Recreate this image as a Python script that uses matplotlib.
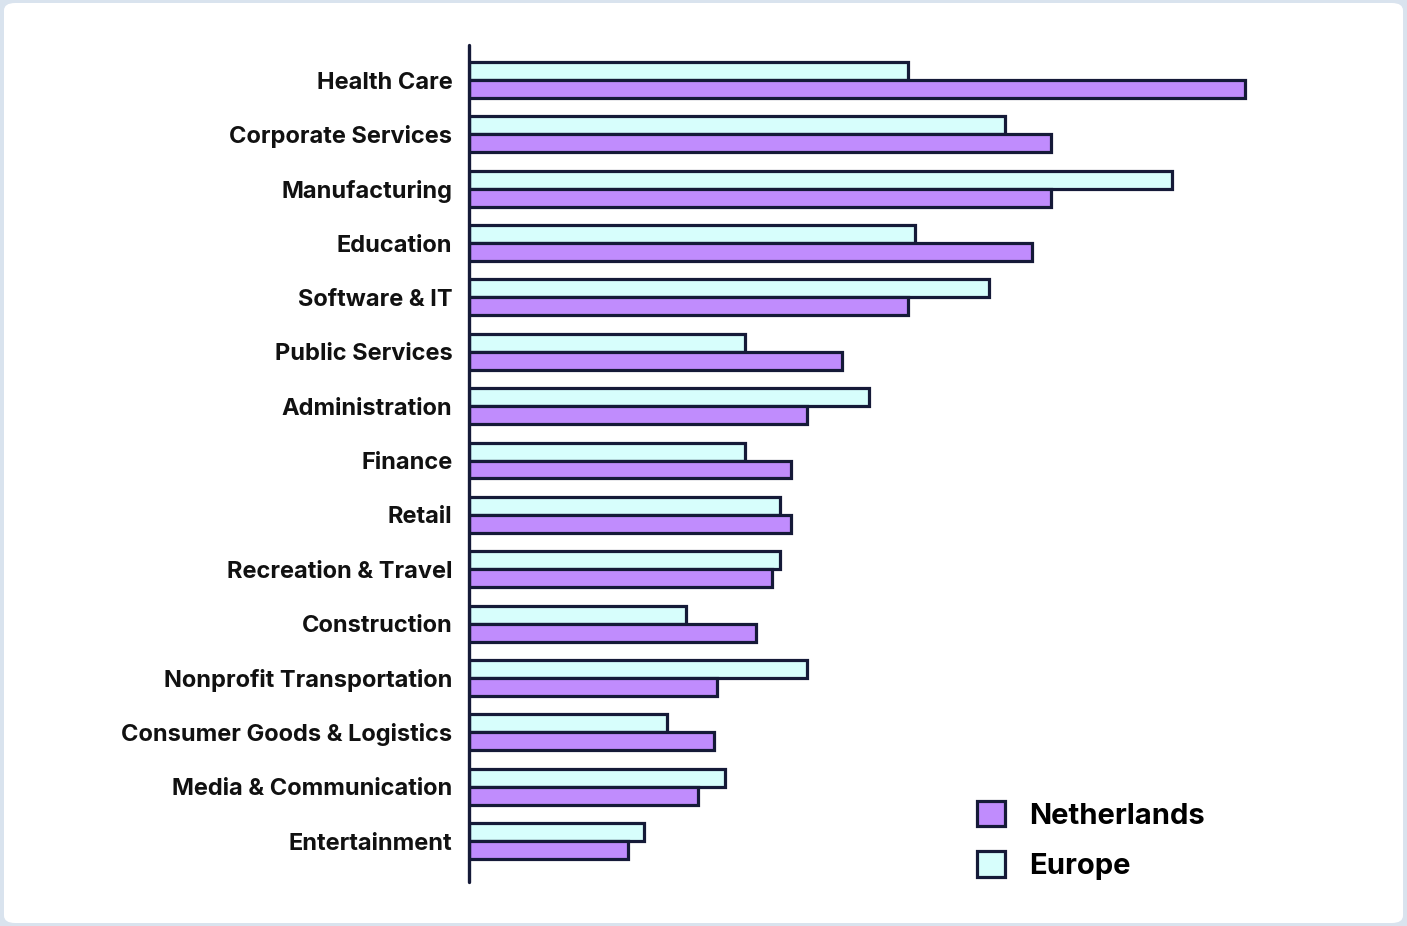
import matplotlib
matplotlib.use("Agg")
import matplotlib.pyplot as plt
import numpy as np
from matplotlib.patches import Patch, FancyBboxPatch

categories = ["Health Care", "Corporate Services", "Manufacturing", "Education",
              "Software & IT", "Public Services", "Administration", "Finance",
              "Retail", "Recreation & Travel", "Construction",
              "Nonprofit Transportation", "Consumer Goods & Logistics",
              "Media & Communication", "Entertainment"]
europe = [11.3, 13.8, 18.1, 11.5, 13.4, 7.1, 10.3, 7.1, 8.0, 8.0, 5.6, 8.7, 5.1, 6.6, 4.5]
netherlands = [20.0, 15.0, 15.0, 14.5, 11.3, 9.6, 8.7, 8.3, 8.3, 7.8, 7.4, 6.4, 6.3, 5.9, 4.1]

PURPLE = "#C08CFD"
CYAN = "#D7FEFC"
EDGE = "#151A38"
FONT = ['Inter', 'DejaVu Sans']

plt.rcParams['font.family'] = FONT

W, H = 1407, 926
fig = plt.figure(figsize=(W / 100, H / 100), dpi=100)
fig.patch.set_facecolor("#D9E3EE")
bg = FancyBboxPatch((4 / W, 3 / H), (W - 8) / W, (H - 6) / H,
                    boxstyle="round,pad=0,rounding_size=0.008",
                    transform=fig.transFigure, facecolor="white",
                    edgecolor="none", zorder=-10)
fig.patches.append(bg)

left = 469 / W
top = 45 / H
bottom = 882 / H
ax = fig.add_axes([left, 1 - bottom, 854 / W, bottom - top])
ax.set_facecolor("none")

y = np.arange(len(categories))
h = 0.33
ax.barh(y - h / 2, europe, height=h, color=CYAN, edgecolor=EDGE, linewidth=2.3, label="Europe")
ax.barh(y + h / 2, netherlands, height=h, color=PURPLE, edgecolor=EDGE, linewidth=2.3, label="Netherlands")

ax.set_xlim(0, 22)
ax.set_ylim(len(categories) - 1 + 0.754, -0.644)
ax.set_yticks(y)
ax.set_yticklabels(categories, fontsize=17, fontweight="bold", color="#111111")
ax.tick_params(axis="y", length=0, pad=12)
ax.set_xticks([])
for s in ["top", "right", "bottom"]:
    ax.spines[s].set_visible(False)
ax.spines["left"].set_linewidth(2.4)
ax.spines["left"].set_color(EDGE)
ax.spines["left"].set_capstyle("round")

handles = [Patch(facecolor=PURPLE, edgecolor=EDGE, linewidth=2.3, label="Netherlands"),
           Patch(facecolor=CYAN, edgecolor=EDGE, linewidth=2.3, label="Europe")]
fig.legend(handles=handles, loc="upper left", bbox_to_anchor=(977 / W, 1 - 801 / H),
           frameon=False, prop={"size": 21, "weight": "bold", "family": FONT},
           handlelength=0.95, handleheight=0.95, handletextpad=0.85, labelspacing=0.75,
           borderpad=0, borderaxespad=0)

fig.savefig("out.png", dpi=100, facecolor=fig.get_facecolor())
